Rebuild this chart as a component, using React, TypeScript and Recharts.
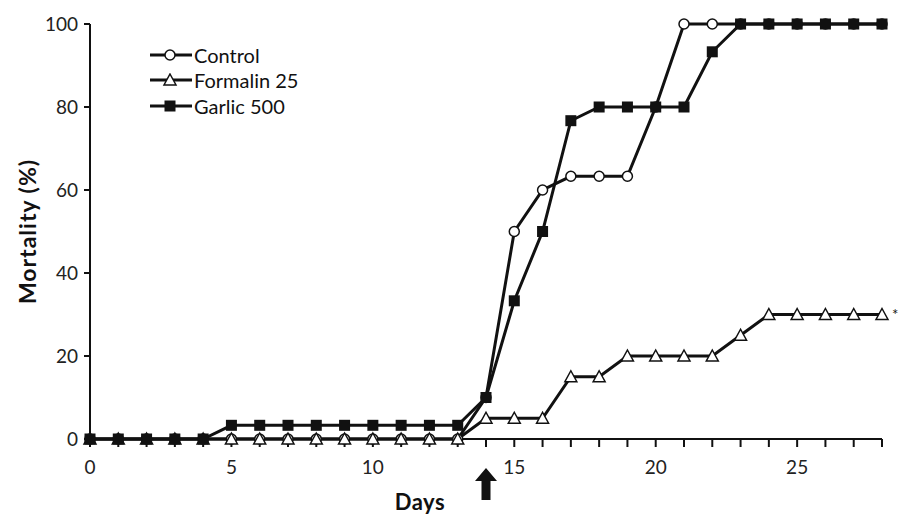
import { LineChart, Line, XAxis, YAxis, Legend, ReferenceDot, LabelList } from 'recharts';

const days = [0, 1, 2, 3, 4, 5, 6, 7, 8, 9, 10, 11, 12, 13, 14, 15, 16, 17, 18, 19, 20, 21, 22, 23, 24, 25, 26, 27, 28];
const dayLabels = [0, 5, 10, 15, 20, 25];
const mortalityTicks = [0, 20, 40, 60, 80, 100];

const control = [0, 0, 0, 0, 0, 0, 0, 0, 0, 0, 0, 0, 0, 0, 10, 50, 60, 63.3, 63.3, 63.3, 80, 100, 100, 100, 100, 100, 100, 100, 100];
const formalin = [0, 0, 0, 0, 0, 0, 0, 0, 0, 0, 0, 0, 0, 0, 5, 5, 5, 15, 15, 20, 20, 20, 20, 25, 30, 30, 30, 30, 30];
const garlic = [0, 0, 0, 0, 0, 3.3, 3.3, 3.3, 3.3, 3.3, 3.3, 3.3, 3.3, 3.3, 10, 33.3, 50, 76.7, 80, 80, 80, 80, 93.3, 100, 100, 100, 100, 100, 100];

const treatmentDay = 14;

const data = days.map((d, i) => ({
  day: d,
  control: control[i],
  formalin: formalin[i],
  garlic: garlic[i],
}));

const FONT = 'Lato, "Open Sans", sans-serif';
const INK = '#111';

function Marker({ kind, cx, cy }: { kind: string; cx: number; cy: number }) {
  if (kind === 'control') {
    return <circle cx={cx} cy={cy} r={5} fill="#fff" stroke={INK} strokeWidth={1.5} />;
  }
  if (kind === 'formalin') {
    return (
      <path
        d={`M${cx},${cy - 6} L${cx + 6},${cy + 5} L${cx - 6},${cy + 5} Z`}
        fill="#fff"
        stroke={INK}
        strokeWidth={1.5}
      />
    );
  }
  return <rect x={cx - 5.5} y={cy - 5.5} width={11} height={11} fill={INK} />;
}

const dotFor = (kind: string) => (props: any) => {
  const { cx, cy, index } = props;
  if (cx == null || cy == null) return <g key={`${kind}-${index}`} />;
  return <Marker key={`${kind}-${index}`} kind={kind} cx={cx} cy={cy} />;
};

function LegendContent({ payload }: any) {
  return (
    <div style={{ fontFamily: FONT, fontSize: 20, color: INK }}>
      {(payload || []).map((entry: any) => (
        <div key={entry.value} style={{ display: 'flex', alignItems: 'center', height: 25.5 }}>
          <svg width={43} height={14} style={{ marginRight: 1 }}>
            <line x1={0} y1={7} x2={42} y2={7} stroke={INK} strokeWidth={3} />
            <Marker kind={entry.dataKey} cx={20} cy={7} />
          </svg>
          <span>{entry.value}</span>
        </div>
      ))}
    </div>
  );
}

function ArrowShape(props: any) {
  const { cx, cy } = props;
  if (cx == null || cy == null) return <g />;
  const tip = cy + 29;
  return (
    <path
      d={`M${cx},${tip} L${cx + 11},${tip + 13} L${cx + 4.5},${tip + 13} L${cx + 4.5},${tip + 32} L${cx - 4.5},${tip + 32} L${cx - 4.5},${tip + 13} L${cx - 11},${tip + 13} Z`}
      fill={INK}
    />
  );
}

function AsteriskLabel(props: any) {
  const { x, y, index } = props;
  if (index !== days.length - 1) return null;
  return (
    <text x={x + 10} y={y + 5} fontFamily={FONT} fontSize={15} fill={INK}>
      *
    </text>
  );
}

function YLabel(props: any) {
  const { viewBox } = props;
  const cx = 27;
  const cy = viewBox.y + viewBox.height / 2;
  return (
    <text
      x={cx}
      y={cy}
      transform={`rotate(-90, ${cx}, ${cy})`}
      textAnchor="middle"
      dominantBaseline="central"
      fontFamily={FONT}
      fontWeight="bold"
      fontSize={23}
      letterSpacing={1}
      fill={INK}
    >
      Mortality (%)
    </text>
  );
}

function XLabel(props: any) {
  const { viewBox } = props;
  const cx = viewBox.x + viewBox.width / 2 - 66;
  return (
    <text x={cx} y={510} textAnchor="middle" fontFamily={FONT} fontWeight="bold" fontSize={22} letterSpacing={0.5} fill={INK}>
      Days
    </text>
  );
}

export default function App() {
  return (
    <div style={{ position: 'absolute', left: 0, top: 0, width: 909, height: 516, background: '#fff' }}>
      <LineChart width={909} height={516} data={data} margin={{ top: 24, right: 27, left: 30, bottom: 37 }}>
        <XAxis
          dataKey="day"
          type="number"
          domain={[0, 28]}
          ticks={days}
          interval={0}
          tickFormatter={(v: number) => (dayLabels.includes(v) ? String(v) : '')}
          height={40}
          tickSize={8}
          tickMargin={14}
          axisLine={{ stroke: INK, strokeWidth: 2 }}
          tickLine={{ stroke: INK, strokeWidth: 2 }}
          tick={{ fontFamily: FONT, fontSize: 19, fill: '#222' }}
          label={<XLabel />}
        />
        <YAxis
          type="number"
          domain={[0, 100]}
          ticks={mortalityTicks}
          width={60}
          tickSize={6}
          tickMargin={6}
          axisLine={{ stroke: INK, strokeWidth: 2 }}
          tickLine={{ stroke: INK, strokeWidth: 2 }}
          tick={{ fontFamily: FONT, fontSize: 19, fill: '#222' }}
          label={<YLabel />}
        />
        <Legend
          layout="vertical"
          verticalAlign="middle"
          align="center"
          content={<LegendContent />}
          wrapperStyle={{ left: 150, top: 42, width: 220 }}
        />
        <Line
          dataKey="control"
          name="Control"
          stroke={INK}
          strokeWidth={3}
          dot={dotFor('control')}
          activeDot={false}
          isAnimationActive={false}
        />
        <Line
          dataKey="formalin"
          name="Formalin 25"
          stroke={INK}
          strokeWidth={3}
          dot={dotFor('formalin')}
          activeDot={false}
          isAnimationActive={false}
        >
          <LabelList dataKey="formalin" content={<AsteriskLabel />} />
        </Line>
        <Line
          dataKey="garlic"
          name="Garlic 500"
          stroke={INK}
          strokeWidth={3}
          dot={dotFor('garlic')}
          activeDot={false}
          isAnimationActive={false}
        />
        <ReferenceDot x={treatmentDay} y={0} ifOverflow="visible" shape={<ArrowShape />} />
      </LineChart>
    </div>
  );
}
